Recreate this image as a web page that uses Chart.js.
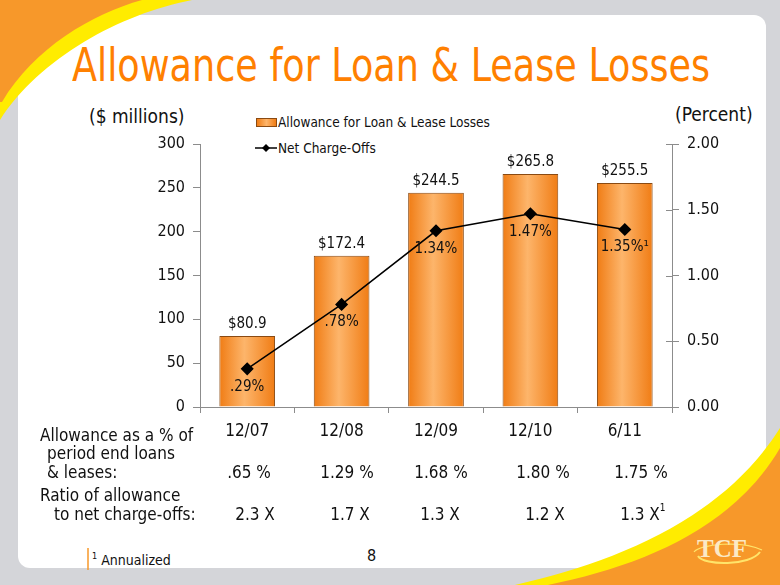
<!DOCTYPE html>
<html>
<head>
<meta charset="utf-8">
<script src="https://cdn.jsdelivr.net/npm/chart.js@4.4.0/dist/chart.umd.min.js"></script>
<style>
  body { margin: 0; width: 780px; height: 585px; overflow: hidden; background: #d4d5d9; position: relative;
         font-family: 'DejaVu Sans Condensed', 'DejaVu Sans', sans-serif; color: #111; }
  .panel { position: absolute; left: 18px; top: 15px; width: 748px; height: 553px; background: #fff; border-radius: 12px; }
  svg.deco { position: absolute; left: 0; top: 0; }
  .t { position: absolute; white-space: nowrap; line-height: 20px; font-size: 17px; }
  .c { transform: translateX(-50%); }
  #title { position: absolute; left: 72px; top: 39px; font-size: 46px; line-height: 52px; color: #ff8000; white-space: nowrap; transform-origin: left top; }
  #chart { position: absolute; left: 120px; top: 100px; }
  .leg { position: absolute; font-size: 13.5px; line-height: 16px; white-space: nowrap; }
  .swatch { position: absolute; left: 256px; top: 118px; width: 19px; height: 7px; border: 1px solid #8a4a12;
            background: linear-gradient(90deg, #f07c14, #fdb56b, #f07c14); }
</style>
</head>
<body>
<div class="panel"></div>

<svg class="deco" width="780" height="585">
  <path d="M192,0 C120,14 40,58 0,120 L0,0 Z" fill="#ffec00"/>
  <path d="M142,0 C92,14 34,48 2,102 L0,102 L0,0 Z" fill="#f7982a"/>
  <path d="M515,585 C615,562 722,520 780,428 L780,585 Z" fill="#ffec00"/>
  <path d="M548,585 C640,566 732,530 780,448 L780,585 Z" fill="#f7982a"/>
  <path d="M698,556 C704,566 750,566 760,552" fill="none" stroke="#ffe46a" stroke-width="2"/>
  <path d="M694,552 C700,544 742,540 762,550" fill="none" stroke="#ffe46a" stroke-width="1.2"/>
  <text x="722" y="557" text-anchor="middle" font-family="Liberation Serif, serif" font-weight="bold" font-size="25" fill="#fbe9c6">TCF</text>
  <line x1="88" y1="548" x2="88" y2="570" stroke="#f7982a" stroke-width="1.5"/>
  <line x1="255" y1="148" x2="277" y2="148" stroke="#000" stroke-width="1.5"/>
  <path d="M266,144 L270,148 L266,152 L262,148 Z" fill="#000"/>
</svg>

<div id="title">Allowance for Loan &amp; Lease Losses</div>

<div class="t" style="left:89px;top:106px;font-size:19px;">($ millions)</div>
<div class="t" style="left:675px;top:104px;font-size:19px;">(Percent)</div>

<div class="swatch"></div>
<div class="leg" style="left:278px;top:114px;">Allowance for Loan &amp; Lease Losses</div>
<div class="leg" style="left:278px;top:140px;">Net Charge-Offs</div>

<canvas id="chart" width="620" height="350"></canvas>

<div id="table"></div>

<div class="t" style="left:92px;top:546px;font-size:14px;"><sup style="font-size:9px">1</sup> Annualized</div>
<div class="t" style="left:367px;top:546px;font-size:16px;">8</div>

<script>
// ---- chart data ----
const categories = ['12/07', '12/08', '12/09', '12/10', '6/11'];
const allowance = [80.9, 172.4, 244.5, 265.8, 255.5];          // $ millions
const netChargeOffs = [0.29, 0.78, 1.34, 1.47, 1.35];          // percent
const chargeOffLabels = ['.29%', '.78%', '1.34%', '1.47%', '1.35%\u00b9'];

// ---- table under the chart ----
const allowancePct = ['.65 %', '1.29 %', '1.68 %', '1.80 %', '1.75 %'];
const coverageRatio = ['2.3 X', '1.7 X', '1.3 X', '1.2 X', '1.3 X'];
const coverageNote = ['', '', '', '', '1'];

const BAR_PCT = 0.59;
const COND_FONT = "'DejaVu Sans Condensed', 'DejaVu Sans', sans-serif";

// fit title width
const title = document.getElementById('title');
title.style.transform = 'scaleX(' + (638 / title.offsetWidth) + ')';

// horizontal orange gradient per bar, applied once bars have their geometry
const barGradient = {
  id: 'barGradient',
  beforeDatasetsDraw(chart) {
    const ctx = chart.ctx;
    chart.getDatasetMeta(1).data.forEach(bar => {
      const half = bar.width / 2;
      if (!isFinite(bar.x) || !isFinite(half)) return;
      const g = ctx.createLinearGradient(bar.x - half, 0, bar.x + half, 0);
      g.addColorStop(0, '#f07c14');
      g.addColorStop(0.45, '#fdb56b');
      g.addColorStop(1, '#f07c14');
      bar.options = Object.assign({}, bar.options, { backgroundColor: g });
    });
  }
};

// value labels above bars and below line points, plus crossing ticks on the right axis
const valueLabels = {
  id: 'valueLabels',
  afterDatasetsDraw(chart) {
    const ctx = chart.ctx;
    ctx.save();
    ctx.fillStyle = '#111';
    ctx.textAlign = 'center';
    ctx.font = '15px ' + COND_FONT;
    chart.getDatasetMeta(1).data.forEach((bar, i) => {
      ctx.textBaseline = 'bottom';
      ctx.fillText('$' + allowance[i].toFixed(1), bar.x, bar.y - 4);
    });
    chart.getDatasetMeta(0).data.forEach((pt, i) => {
      ctx.textBaseline = 'middle';
      ctx.fillText(chargeOffLabels[i], pt.x, pt.y + 18);
    });
    const y1 = chart.scales.y1;
    ctx.strokeStyle = '#8c8c8c';
    ctx.lineWidth = 1;
    y1.ticks.forEach(t => {
      const py = Math.round(y1.getPixelForValue(t.value)) + 0.5;
      ctx.beginPath();
      ctx.moveTo(y1.left - 6, py);
      ctx.lineTo(y1.left, py);
      ctx.stroke();
    });
    ctx.restore();
  }
};

const axisGrid = { display: true, drawOnChartArea: false, tickLength: 7, color: '#8c8c8c' };
const tickFont = { size: 16, family: COND_FONT };

new Chart(document.getElementById('chart').getContext('2d'), {
  type: 'bar',
  data: {
    labels: categories,
    datasets: [
      {
        type: 'line',
        label: 'Net Charge-Offs',
        data: netChargeOffs,
        yAxisID: 'y1',
        borderColor: '#000',
        borderWidth: 1.5,
        pointStyle: 'rectRot',
        pointRadius: 5.5,
        pointBackgroundColor: '#000',
        pointBorderColor: '#000',
        tension: 0,
        order: 0
      },
      {
        label: 'Allowance for Loan & Lease Losses',
        data: allowance,
        yAxisID: 'y',
        backgroundColor: '#f7941d',
        borderColor: '#8a4a12',
        borderWidth: 1,
        barPercentage: BAR_PCT,
        categoryPercentage: 1,
        order: 1
      }
    ]
  },
  options: {
    responsive: false,
    animation: false,
    layout: { padding: { top: 44 } },
    plugins: {
      legend: { display: false },
      tooltip: { enabled: false }
    },
    scales: {
      x: {
        grid: { display: true, drawOnChartArea: false, offset: true, tickLength: 6, color: '#8c8c8c' },
        border: { color: '#8c8c8c' },
        ticks: { color: '#111', font: { size: 17, family: COND_FONT }, padding: 8 },
        afterFit: s => { s.height = 43; }
      },
      y: {
        position: 'left',
        min: 0,
        max: 300,
        grid: axisGrid,
        border: { color: '#8c8c8c' },
        ticks: { stepSize: 50, color: '#111', font: tickFont, padding: 8 },
        afterFit: s => { s.width = 80; }
      },
      y1: {
        position: 'right',
        min: 0,
        max: 2,
        grid: axisGrid,
        border: { color: '#8c8c8c' },
        ticks: { stepSize: 0.5, color: '#111', font: tickFont, padding: 8,
                 callback: v => Number(v).toFixed(2) },
        afterFit: s => { s.width = 68; }
      }
    }
  },
  plugins: [barGradient, valueLabels]
});

// ---- table text ----
const table = document.getElementById('table');
function addText(html, left, centerY, centered) {
  const d = document.createElement('div');
  d.className = 't' + (centered ? ' c' : '');
  d.style.left = left + 'px';
  d.style.top = (centerY - 10) + 'px';
  d.innerHTML = html;
  table.appendChild(d);
}
addText('Allowance as a % of', 40, 435);
addText('period end loans', 47, 453);
addText('&amp; leases:', 47, 472);
addText('Ratio of allowance', 40, 495);
addText('to net charge-offs:', 54, 514);

const pctX = [249, 347, 441, 543, 641];
const ratioX = [255, 350, 440, 545, 640];
allowancePct.forEach((v, i) => addText(v, pctX[i], 472, true));
coverageRatio.forEach((v, i) => {
  const note = coverageNote[i] ? '<sup style="font-size:10px;position:absolute;top:-6px">' + coverageNote[i] + '</sup>' : '';
  addText(v + note, ratioX[i], 514, true);
});
</script>
</body>
</html>
